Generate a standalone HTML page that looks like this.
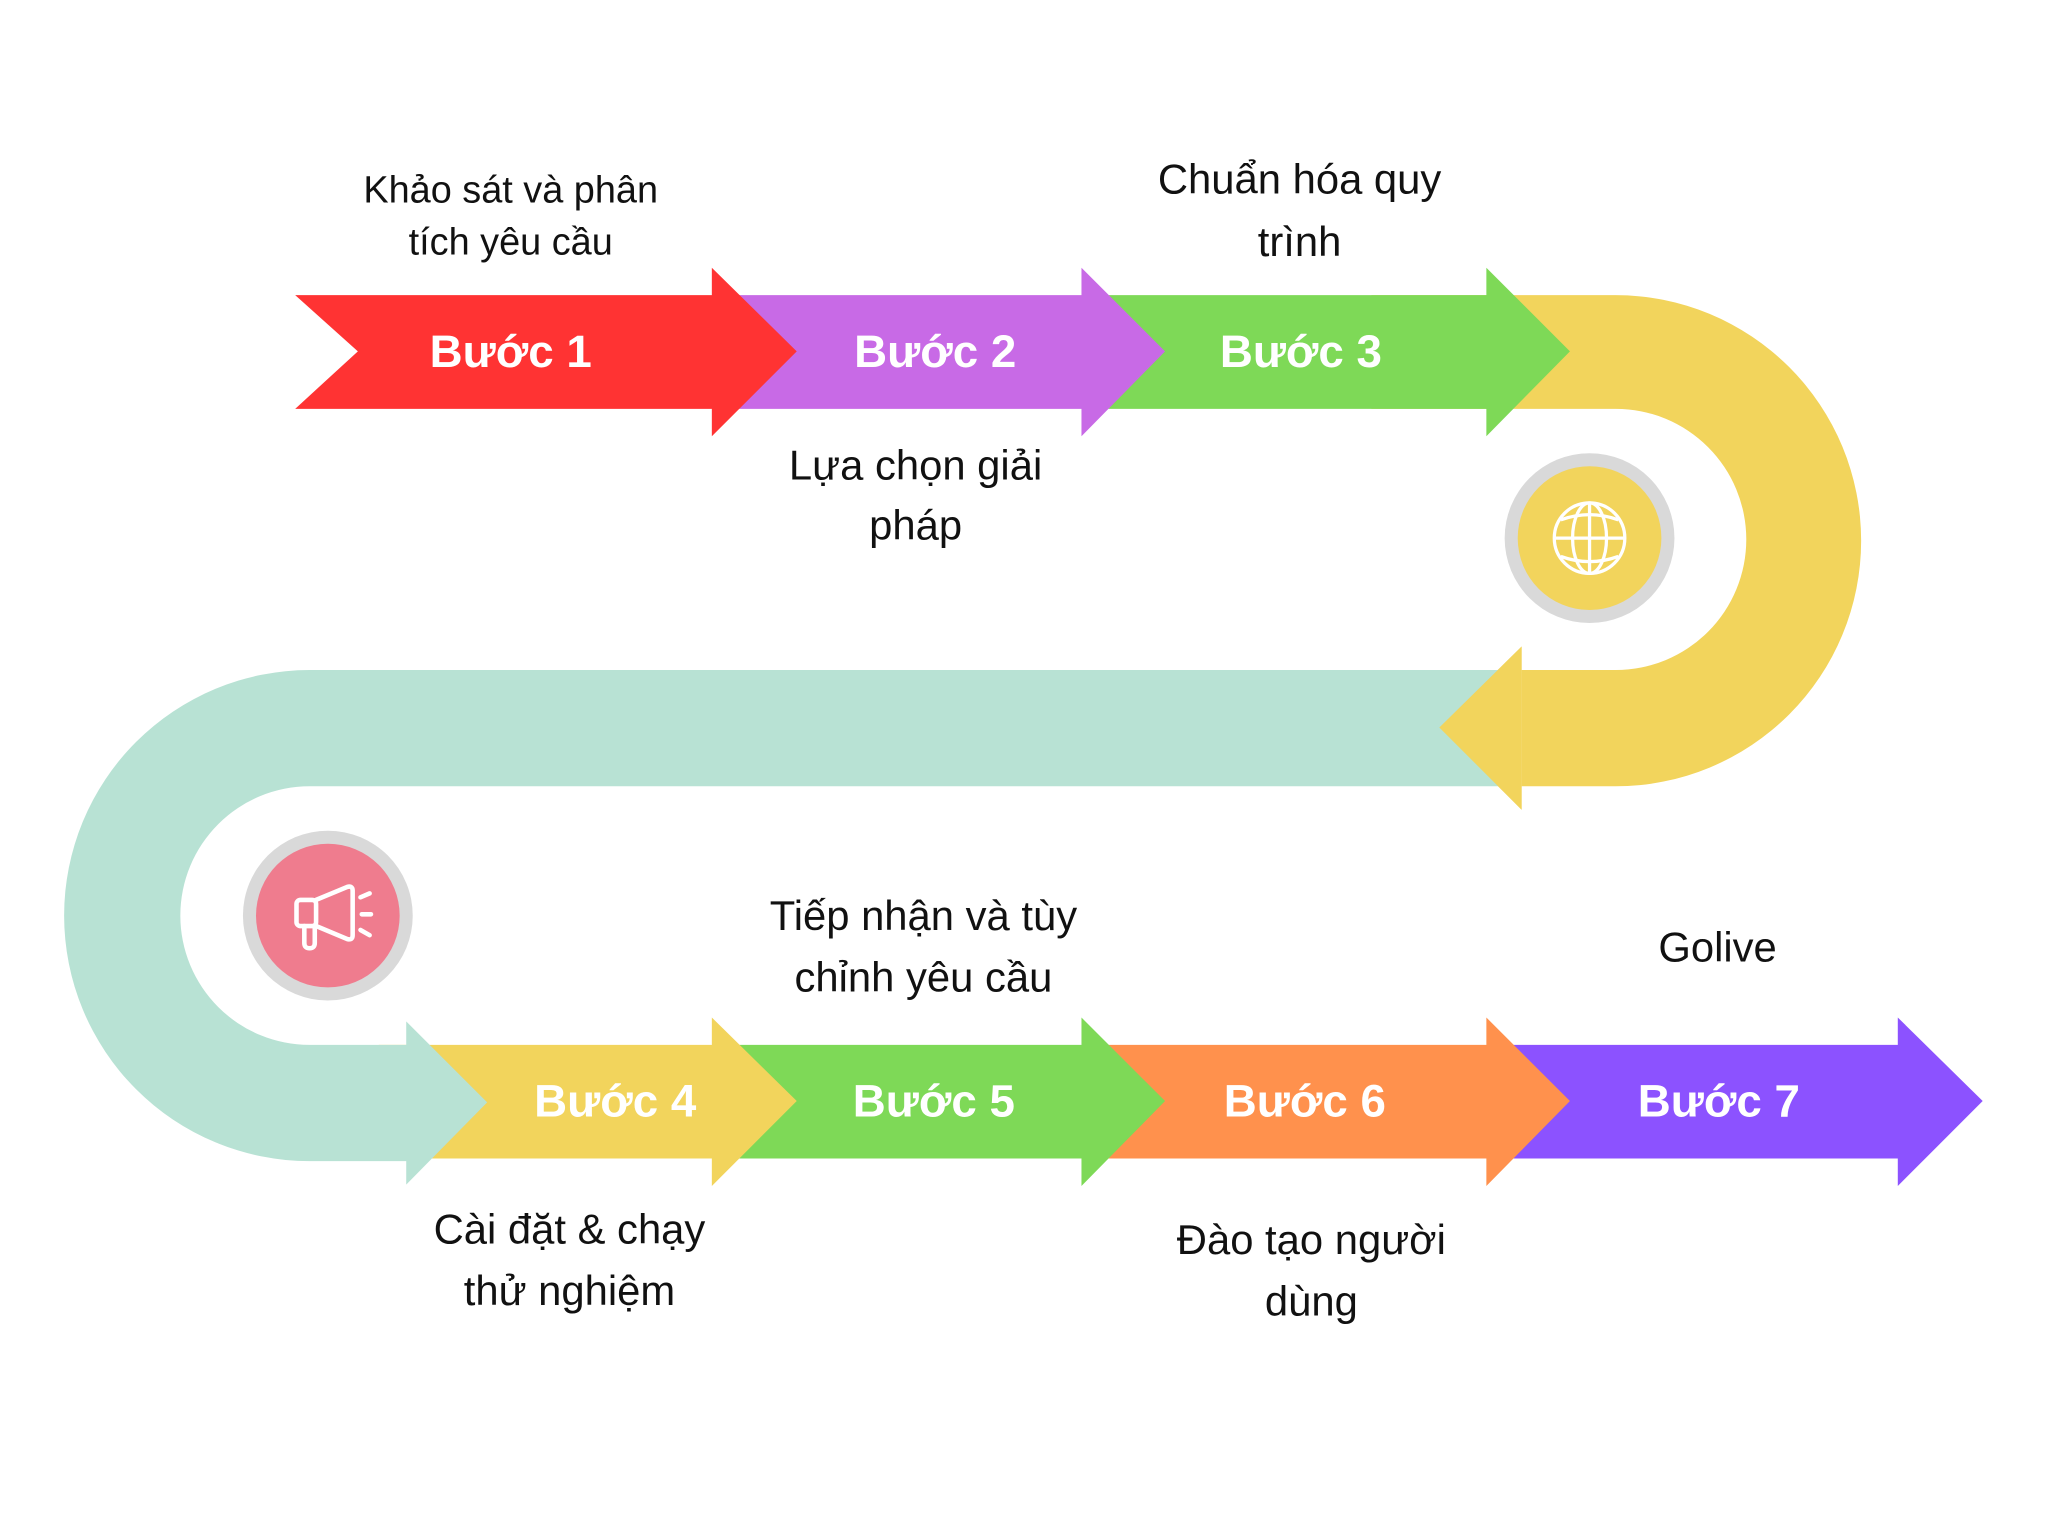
<!DOCTYPE html>
<html><head><meta charset="utf-8"><style>
html,body{margin:0;padding:0;background:#fff;}
svg{display:block;}
.b{font-family:"Liberation Sans",sans-serif;font-weight:bold;font-size:35px;fill:#fff;text-anchor:middle;}
.t{font-family:"Liberation Sans","DejaVu Sans",sans-serif;font-size:32px;fill:#111;text-anchor:middle;}
</style></head><body>
<svg width="2048" height="1536" viewBox="0 0 1568 1176" xmlns="http://www.w3.org/2000/svg">
<rect width="1568" height="1176" fill="#fff"/>
<path d="M1050,226 H1237 A188,188 0 0 1 1237,602 H1165 V513 H1237 A100,100 0 0 0 1237,313 H1050 Z" fill="#F2D45C"/>
<polygon points="1165,495 1102,557 1165,620" fill="#F2D45C"/>
<polygon points="1158,800 1453,800 1453,779 1518,843 1453,908 1453,887 1158,887" fill="#8C52FF"/>
<polygon points="848,800 1138,800 1138,779 1202,843 1138,908 1138,887 848,887" fill="#FF914D"/>
<polygon points="565,800 828,800 828,779 892,843 828,908 828,887 565,887" fill="#7ED957"/>
<polygon points="290,800 545,800 545,779 610,843 545,908 545,887 290,887" fill="#F2D45C"/>
<path d="M428,513 H1150 V602 H237 A99,99 0 0 0 237,800 H312 V889 H237 A188,188 0 0 1 237,513 Z" fill="#B8E2D4"/>
<polygon points="311,782 373,844 311,907" fill="#B8E2D4"/>
<polygon points="1165,495 1102,557 1165,620 1165,513" fill="#F2D45C"/>
<polygon points="848,226 1138,226 1138,205 1202,269 1138,334 1138,313 848,313" fill="#7ED957"/>
<polygon points="565,226 828,226 828,205 892,269 828,334 828,313 565,313" fill="#C86AE6"/>
<polygon points="226,226 545,226 545,205 610,269 545,334 545,313 226,313 274,269" fill="#FF3333"/>
<text class="b" x="391" y="281">Bước 1</text>
<text class="b" x="716" y="281">Bước 2</text>
<text class="b" x="996" y="281">Bước 3</text>
<text class="b" x="471" y="855">Bước 4</text>
<text class="b" x="715" y="855">Bước 5</text>
<text class="b" x="999" y="855">Bước 6</text>
<text class="b" x="1316" y="855">Bước 7</text>
<text class="t" x="391" y="155" style="font-size:29px">Khảo sát và phân</text>
<text class="t" x="391" y="195" style="font-size:29px">tích yêu cầu</text>
<text class="t" x="701" y="367">Lựa chọn giải</text>
<text class="t" x="701" y="413">pháp</text>
<text class="t" x="995" y="148">Chuẩn hóa quy</text>
<text class="t" x="995" y="196">trình</text>
<text class="t" x="707" y="712">Tiếp nhận và tùy</text>
<text class="t" x="707" y="759">chỉnh yêu cầu</text>
<text class="t" x="1315" y="736">Golive</text>
<text class="t" x="436" y="952">Cài đặt &amp; chạy</text>
<text class="t" x="436" y="999">thử nghiệm</text>
<text class="t" x="1004" y="960">Đào tạo người</text>
<text class="t" x="1004" y="1007">dùng</text>
<circle cx="1217" cy="412" r="65" fill="#D9D9D9"/>
<circle cx="1217" cy="412" r="55" fill="#F2D45C"/>
<g fill="none" stroke="#fff" stroke-width="2.5">
<circle cx="1217" cy="412" r="27"/>
<ellipse cx="1217" cy="412" rx="13" ry="27"/>
<line x1="1217" y1="385" x2="1217" y2="439"/>
<line x1="1190" y1="412" x2="1244" y2="412"/>
<path d="M1195,398 Q1217,390 1239,398"/>
<path d="M1195,426 Q1217,434 1239,426"/>
</g>
<circle cx="251" cy="701" r="65" fill="#D9D9D9"/>
<circle cx="251" cy="701" r="55" fill="#EF7C8E"/>
<g fill="none" stroke="#fff" stroke-width="3.5" stroke-linejoin="round" stroke-linecap="round">
<rect x="227" y="689" width="15" height="20" rx="3"/>
<path d="M242,689 L266,679 Q270,678 270,682 V716 Q270,720 266,719 L242,709"/>
<path d="M233,709 V722 Q233,726 237,726 Q241,726 241,722 V709"/>
<line x1="276" y1="687" x2="283" y2="684"/>
<line x1="277" y1="700" x2="284" y2="700"/>
<line x1="276" y1="712" x2="283" y2="716"/>
</g>
</svg>
</body></html>
